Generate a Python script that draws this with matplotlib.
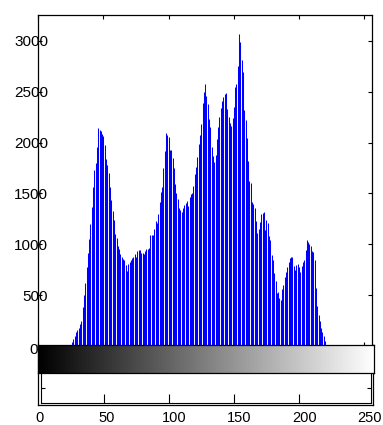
import matplotlib
matplotlib.use("Agg")
import matplotlib.pyplot as plt
import matplotlib.transforms as mtransforms
import numpy as np

plt.rcParams["font.family"] = ["Liberation Sans", "DejaVu Sans"]

# grey levels 0..255
levels = np.arange(256)

# pixel counts per grey level (bins 0-23 and 222-255 are empty)
counts_24_221 = [
    5, 12, 40, 70, 100, 135, 160, 175, 220, 250,                       # 24-33
    380, 500, 620, 780, 910, 1050, 1200, 1370, 1560, 1730,             # 34-43
    1800, 1960, 2140, 2125, 2110, 2080, 2070, 1980, 1840, 1780,        # 44-53
    1700, 1560, 1440, 1330, 1240, 1100, 1060, 980, 950, 900,           # 54-63
    875, 860, 845, 800, 735, 810, 830, 850, 865, 880,                  # 64-73
    905, 880, 930, 945, 940, 915, 910, 905, 930, 955,                  # 74-83
    950, 960, 1090, 1095, 1092, 1150, 1225, 1210, 1300, 1420,          # 84-93
    1510, 1565, 1750, 1920, 2095, 2075, 2060, 1930, 1925, 1850,        # 94-103
    1750, 1590, 1500, 1450, 1360, 1340, 1320, 1360, 1390, 1410,        # 104-113
    1430, 1375, 1470, 1490, 1505, 1575, 1695, 1760, 1860, 1990,        # 114-123
    2075, 2180, 2390, 2500, 2580, 2460, 2380, 2230, 2150, 1960,        # 124-133
    1870, 1810, 1880, 2040, 2150, 2250, 2340, 2410, 2450, 2480,        # 134-143
    2490, 2330, 2250, 2190, 2165, 2240, 2350, 2550, 2580, 2750,        # 144-153
    3070, 2990, 2810, 2690, 2320, 2220, 2050, 1815, 1620, 1600,        # 154-163
    1420, 1400, 1355, 1225, 1110, 1150, 1220, 1300, 1310, 1320,        # 164-173
    1140, 1235, 1210, 1080, 1040, 895, 850, 720, 640, 520,             # 174-183
    530, 470, 455, 560, 600, 680, 730, 780, 830, 865,                  # 184-193
    880, 880, 790, 750, 800, 805, 780, 730, 790, 830,                  # 194-203
    845, 940, 1045, 1020, 1000, 980, 930, 925, 850, 570,               # 204-213
    390, 300, 250, 175, 140, 95, 50, 10,                               # 214-221
]
counts = np.zeros(256)
counts[24:24 + len(counts_24_221)] = counts_24_221

yticks = [0, 500, 1000, 1500, 2000, 2500, 3000]
xticks = [0, 50, 100, 150, 200, 250]

W, H = 383, 425
fig = plt.figure(figsize=(W / 100, H / 100), dpi=100)


def px_rect(x0, y0, x1, y1):
    # pixel box (top-left origin) -> figure fraction rect
    return [x0 / W, 1 - y1 / H, (x1 - x0) / W, (y1 - y0) / H]


# outer frame of the lower strip, carries the tick labels
ax_out = fig.add_axes(px_rect(38.3, 345, 372.7, 405))
ax_out.set_xlim(0, 256)
ax_out.set_ylim(0, 1)
ax_out.set_yticks([])
ax_out.set_xticks(xticks)
ax_out.set_xticklabels([str(t) for t in xticks], fontsize=10.5)
ax_out.tick_params(axis="x", length=0, pad=4)
for sp in ax_out.spines.values():
    sp.set_linewidth(0.9)
for lab, dx in zip(ax_out.get_xticklabels(), [1, 3, 5, 5, 5, 5]):
    lab.set_transform(lab.get_transform() + mtransforms.ScaledTranslation(dx / 100, 0, fig.dpi_scale_trans))

# inner frame with tick marks
ax_in = fig.add_axes(px_rect(40.7, 345, 371, 402.7))
ax_in.set_xlim(1.8, 255.2)
ax_in.set_ylim(0, 1)
ax_in.set_xticks(xticks[1:-1])
ax_in.set_xticklabels([])
ax_in.set_yticks([0.255])
ax_in.set_yticklabels([])
ax_in.tick_params(axis="x", direction="in", length=6.5, width=0.8)
ax_in.tick_params(axis="y", direction="in", length=3, width=0.8, right=True)
for sp in ax_in.spines.values():
    sp.set_linewidth(0.8)

# histogram
ax = fig.add_axes(px_rect(38.3, 15, 372, 346))
ax.vlines(levels, 0, counts, colors="#0000ff", linewidth=0.75)
ax.set_xlim(0, 256)
ax.set_ylim(0, 3255)
ax.set_xticks(xticks)
ax.set_xticklabels([])
ax.set_yticks(yticks)
ax.set_yticklabels([str(t) for t in yticks], fontsize=11)
ax.tick_params(direction="in", length=3, width=0.8, top=True, right=True)
ax.tick_params(axis="y", pad=-7.2)
for sp in ax.spines.values():
    sp.set_linewidth(0.9)
for lab, t in zip(ax.get_yticklabels(), yticks):
    if t == 0:
        lab.set_transform(lab.get_transform() + mtransforms.ScaledTranslation(-10 / 100, -2 / 100, fig.dpi_scale_trans))

# grey-level colour bar
ax_cb = fig.add_axes(px_rect(38.3, 345, 374, 373.3))
ax_cb.imshow(levels[np.newaxis, :], cmap="gray", aspect="auto", vmin=0, vmax=255,
             extent=[0, 256, 0, 1], interpolation="bilinear")
ax_cb.set_xticks([])
ax_cb.set_yticks([])
for sp in ax_cb.spines.values():
    sp.set_linewidth(0.9)

fig.savefig("out.png", dpi=100)
